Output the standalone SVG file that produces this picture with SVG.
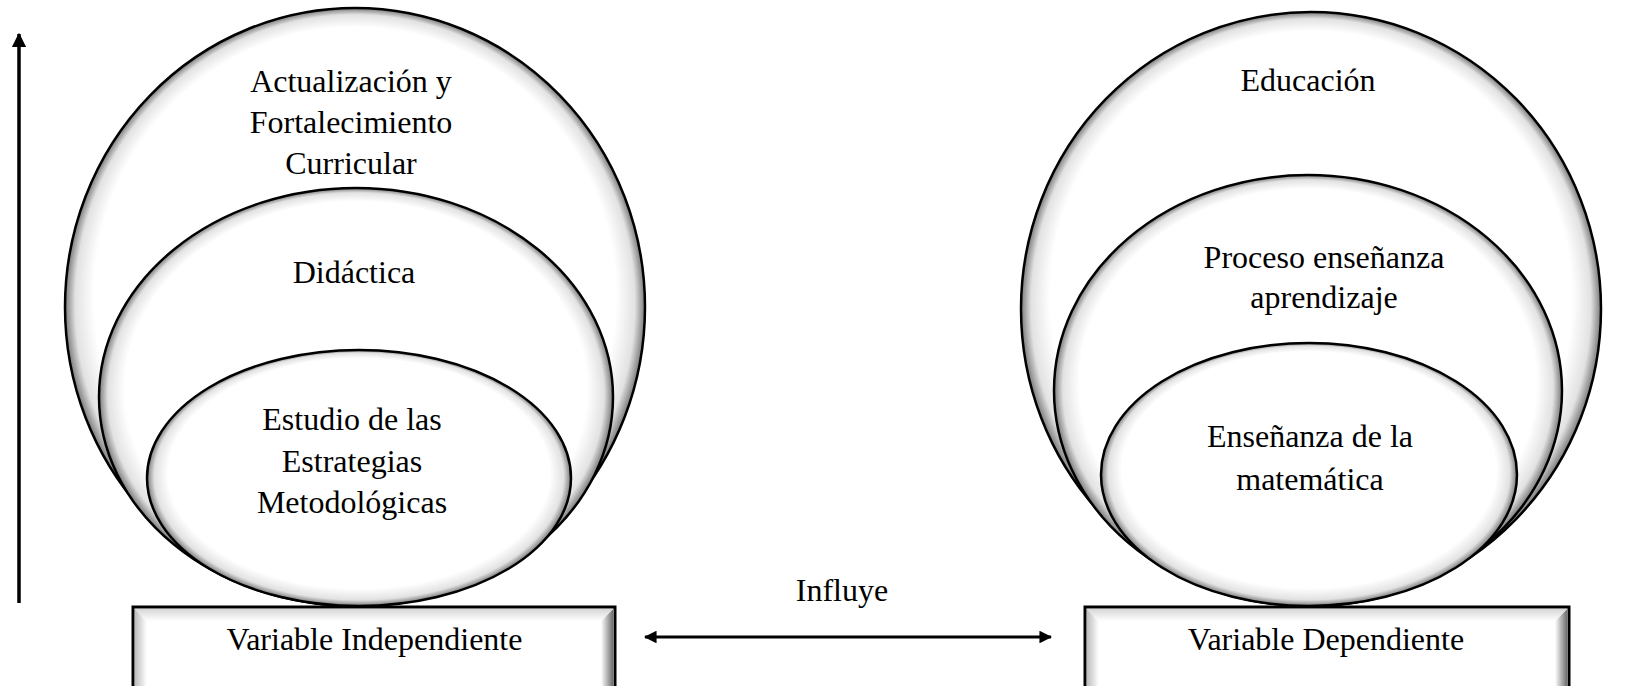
<svg xmlns="http://www.w3.org/2000/svg" width="1644" height="686" viewBox="0 0 1644 686">
<style>
.t{font-family:"Liberation Serif","Times New Roman",serif;font-size:32px;fill:#000;text-anchor:middle}
.ell{fill:url(#shade);stroke:#000;stroke-width:2.5}
.box{fill:#fff;stroke:#000;stroke-width:3}
.ln{stroke:#000;fill:none}
</style>
<defs>
<radialGradient id="shade" cx="0.5" cy="0.5" r="0.5" fx="0.5" fy="0.32">
<stop offset="0" stop-color="#fff"/>
<stop offset="0.9" stop-color="#fff"/>
<stop offset="0.965" stop-color="#e2e2e2"/>
<stop offset="1" stop-color="#7a7a7a"/>
</radialGradient>
<linearGradient id="bl" x1="0" y1="0" x2="1" y2="0"><stop offset="0" stop-color="#bdbdbd"/><stop offset="1" stop-color="#fff"/></linearGradient>
<linearGradient id="br" x1="1" y1="0" x2="0" y2="0"><stop offset="0" stop-color="#6e6e6e"/><stop offset="1" stop-color="#fff"/></linearGradient>
<linearGradient id="bt" x1="0" y1="0" x2="0" y2="1"><stop offset="0" stop-color="#d6d6d6"/><stop offset="1" stop-color="#fff"/></linearGradient>
<marker id="ah" viewBox="0 0 12 12" refX="11" refY="6" markerWidth="4.2" markerHeight="4.2" orient="auto-start-reverse" markerUnits="strokeWidth">
<path d="M0,0 L12,6 L0,12 z" fill="#000"/>
</marker>
</defs>

<g id="left-outer"><ellipse class="ell" cx="355" cy="307" rx="290" ry="299"/>
<text class="t" x="351" y="92">Actualización y</text>
<text class="t" x="351" y="133">Fortalecimiento</text>
<text class="t" x="351" y="174">Curricular</text></g>
<g id="left-middle"><ellipse class="ell" cx="356" cy="397" rx="257" ry="209"/>
<text class="t" x="354" y="283">Didáctica</text></g>
<g id="left-inner"><ellipse class="ell" cx="359" cy="478" rx="212" ry="128"/>
<text class="t" x="352" y="430">Estudio de las</text>
<text class="t" x="352" y="472">Estrategias</text>
<text class="t" x="352" y="513">Metodológicas</text></g>

<g id="right-outer"><ellipse class="ell" cx="1311" cy="309" rx="290" ry="297"/>
<text class="t" x="1308" y="91">Educación</text></g>
<g id="right-middle"><ellipse class="ell" cx="1308" cy="390.5" rx="254" ry="215.5"/>
<text class="t" x="1324" y="268">Proceso enseñanza</text>
<text class="t" x="1324" y="308">aprendizaje</text></g>
<g id="right-inner"><ellipse class="ell" cx="1309" cy="474.5" rx="208" ry="131.5"/>
<text class="t" x="1310" y="447">Enseñanza de la</text>
<text class="t" x="1310" y="490">matemática</text></g>

<g id="box-independiente">
<rect class="box" x="133" y="607" width="482" height="90"/>
<polygon points="135,609 147,621 147,684 135,696" fill="url(#bl)"/>
<polygon points="613,609 601,621 601,684 613,696" fill="url(#br)"/>
<polygon points="135,609 613,609 601,621 147,621" fill="url(#bt)"/>
<text class="t" x="374.5" y="650">Variable Independiente</text>
</g>
<g id="box-dependiente">
<rect class="box" x="1085" y="607" width="484" height="90"/>
<polygon points="1087,609 1099,621 1099,684 1087,696" fill="url(#bl)"/>
<polygon points="1567,609 1555,621 1555,684 1567,696" fill="url(#br)"/>
<polygon points="1087,609 1567,609 1555,621 1099,621" fill="url(#bt)"/>
<text class="t" x="1326" y="650">Variable Dependiente</text>
</g>

<g id="connectors">
<line class="ln" x1="19" y1="603" x2="19" y2="34" stroke-width="3.5" marker-end="url(#ah)"/>
<line class="ln" x1="645" y1="637" x2="1051" y2="637" stroke-width="3" marker-start="url(#ah)" marker-end="url(#ah)"/>
<text class="t" x="842" y="601">Influye</text>
</g>
</svg>
